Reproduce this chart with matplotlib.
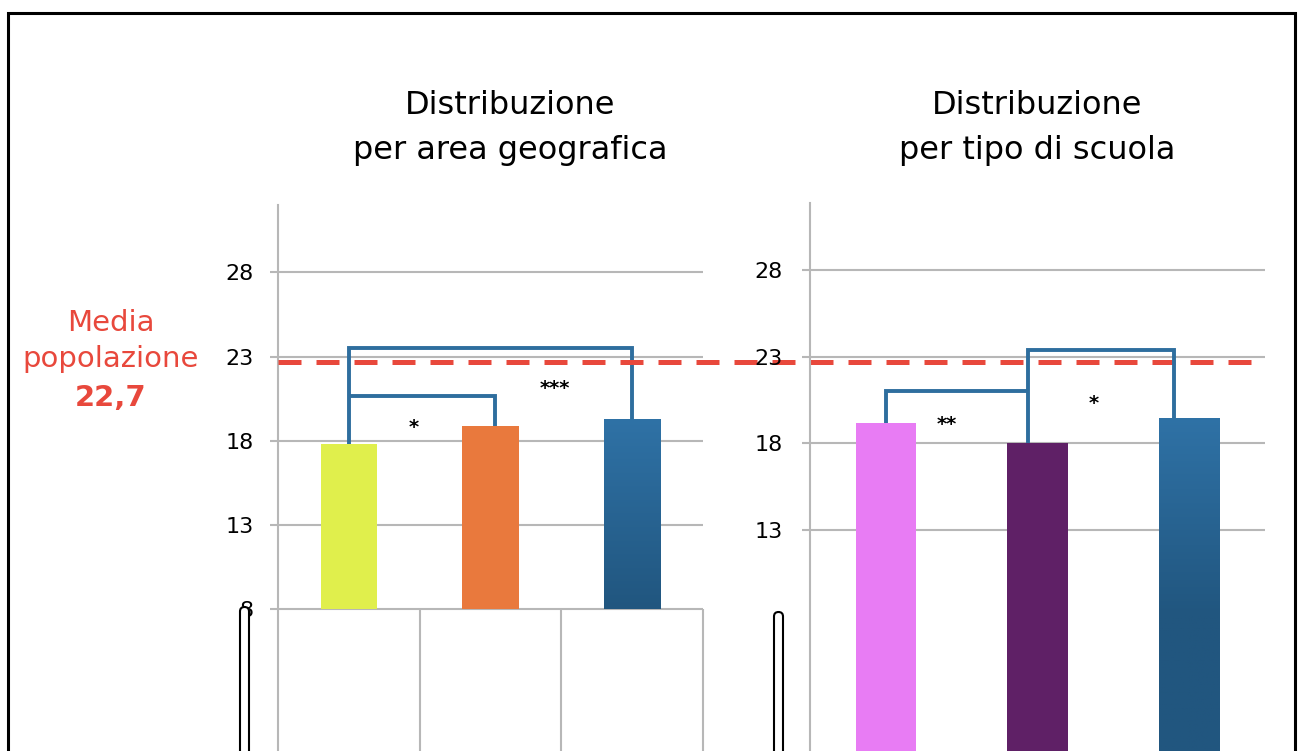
import numpy as np
import matplotlib.pyplot as plt
from matplotlib import transforms
from matplotlib.patches import Rectangle, FancyBboxPatch
from matplotlib.colors import LinearSegmentedColormap

# mean scores by geographic area and by school type
area_values = [17.8, 18.9, 19.3]
area_colors = ['#e0ef4c', '#e9793d', None]
school_values = [19.2, 18.0, 19.45]
school_colors = ['#e87cf4', '#5f2066', None]
media_popolazione = 22.7
media_label = "22,7"

area_ticks = [8, 13, 18, 23, 28]
school_ticks = [13, 18, 23, 28]

# significance stars: (text, x, y)
area_sig = [("*", 0.46, 18.8), ("***", 1.455, 21.1)]
school_sig = [("**", 0.40, 19.1), ("*", 1.37, 20.3)]

W, H = 1298, 751
fig = plt.figure(figsize=(W / 100, H / 100), dpi=100)
fig.patch.set_facecolor('white')

GRID = '#b7b7b7'
RED = '#e8483c'
BRACKET = '#2e6e9e'
blue_cmap = LinearSegmentedColormap.from_list('bl', ['#21567f', '#2f72a6'])


def px_axes(x0, y0, x1, y1):
    return fig.add_axes([x0 / W, 1 - y1 / H, (x1 - x0) / W, (y1 - y0) / H])


def setup(ax, ylim, ticks, pad):
    ax.set_xlim(-0.5, 2.5)
    ax.set_ylim(*ylim)
    for s in ['top', 'right', 'bottom']:
        ax.spines[s].set_visible(False)
    ax.spines['left'].set_color(GRID)
    ax.spines['left'].set_linewidth(1.5)
    ax.set_xticks([])
    ax.set_yticks(ticks)
    ax.tick_params(axis='y', length=5.5, width=1.5, color=GRID, pad=pad,
                   labelsize=16)
    ax.yaxis.grid(True, color=GRID, linewidth=1.5)
    ax.set_axisbelow(True)
    ax.patch.set_alpha(0)


def draw_bars(ax, values, colors, bottom):
    x = np.arange(len(values))
    bars = ax.bar(x, np.array(values) - bottom, bottom=bottom, width=0.4,
                  color=[c if c else '#2a679a' for c in colors], zorder=2)
    ylim = ax.get_ylim()
    for b, c in zip(bars, colors):
        if c is None:
            top = b.get_height() + bottom
            ys = np.linspace(top, bottom, 200)
            grad = np.clip((ys - 8) / (top - 8), 0, 1).reshape(-1, 1)
            x0 = b.get_x()
            im = ax.imshow(grad, extent=[x0, x0 + b.get_width(), bottom, top],
                           aspect='auto', cmap=blue_cmap, zorder=3)
            im.set_clip_path(b)
    ax.set_xlim(-0.5, 2.5)
    ax.set_ylim(*ylim)


def bracket(ax, pts):
    xs, ys = zip(*pts)
    ax.plot(xs, ys, color=BRACKET, lw=2.8, solid_joinstyle='miter',
            solid_capstyle='butt', zorder=4, clip_on=False)


# left panel: area geografica
ax1 = px_axes(278, 205, 703, 751)
setup(ax1, (-0.41, 32), area_ticks, 12)
draw_bars(ax1, area_values, area_colors, 8)
ax1.vlines([0.5, 1.5, 2.5], -0.41, 8, color=GRID, lw=1.5, clip_on=False)
bracket(ax1, [(0, area_values[0]), (0, 23.5), (2, 23.5), (2, area_values[2])])
bracket(ax1, [(0, 20.65), (1.03, 20.65), (1.03, area_values[1])])
for s, x, y in area_sig:
    ax1.text(x, y, s, ha='center', va='center', fontsize=14, fontweight='bold')

# right panel: tipo di scuola
ax2 = px_axes(810, 203, 1265, 751)
setup(ax2, (0.2, 31.9), school_ticks, 14)
draw_bars(ax2, school_values, school_colors, 0)
bracket(ax2, [(0, school_values[0]), (0, 21.0), (0.94, 21.0)])
bracket(ax2, [(0.94, school_values[1]), (0.94, 23.4), (1.9, 23.4), (1.9, school_values[2])])
for s, x, y in school_sig:
    ax2.text(x, y, s, ha='center', va='center', fontsize=14, fontweight='bold')

# population mean across both panels
tr = transforms.blended_transform_factory(fig.transFigure, ax1.transData)
ax1.plot([278 / W, 1265 / W], [media_popolazione] * 2, transform=tr, color=RED,
         lw=3.6, dashes=(4.6, 3), solid_capstyle='butt', dash_capstyle='butt',
         zorder=5, clip_on=False)

# titles and mean label
fig.text(510 / W, 1 - 128 / H, "Distribuzione\nper area geografica", ha='center',
         va='center', fontsize=23, linespacing=1.55)
fig.text(1037 / W, 1 - 128 / H, "Distribuzione\nper tipo di scuola", ha='center',
         va='center', fontsize=23, linespacing=1.55)
fig.text(111 / W, 1 - 341 / H, "Media\npopolazione", ha='center', va='center',
         fontsize=21, color=RED, linespacing=1.4)
fig.text(111 / W, 1 - 398 / H, media_label, ha='center', va='center',
         fontsize=21, color=RED, fontweight='bold')

# frame around the figure
fig.patches.append(Rectangle((8 / W, -0.05), 1287 / W, 1.05 - 12.5 / H, fill=False,
                             edgecolor='black', lw=2.2, transform=fig.transFigure))

# thin rounded markers at the lower left of each axis
ident = transforms.IdentityTransform()
for x0, ytop in [(240, 603), (774, 608)]:
    fig.patches.append(FancyBboxPatch((x0, -20), 9, H - ytop + 20 - 4,
                                      boxstyle='round,pad=0,rounding_size=4.5',
                                      facecolor='white', edgecolor='black', lw=1.5,
                                      transform=ident, zorder=6))

fig.savefig('out.png', dpi=100)
